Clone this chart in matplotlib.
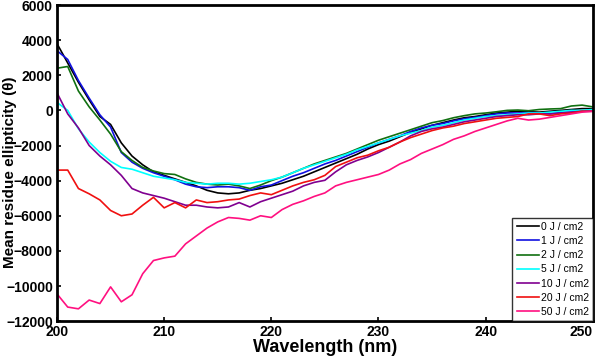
import matplotlib.pyplot as plt
import numpy as np

plt.rcParams['font.family'] = ['Liberation Sans', 'DejaVu Sans']

# wavelength grid (nm)
wavelength = np.arange(200, 251)

# mean residue ellipticity, one value per nm
cd_0 = [3800, 2700, 1600, 600, -350, -800, -1850, -2600, -3100, -3500,
        -3700, -3900, -4100, -4300, -4550, -4700, -4750, -4700, -4550, -4450,
        -4300, -4150, -3950, -3750, -3500, -3250, -3000, -2750, -2500, -2200,
        -1950, -1750, -1500, -1250, -1050, -850, -700, -550, -420, -350,
        -250, -150, -100, -50, -80, -100, -50, 0, 50, 100, 100]
cd_1 = [3400, 2900, 1700, 700, -250, -950, -2400, -2950, -3300, -3550,
        -3750, -3950, -4200, -4350, -4400, -4350, -4350, -4400, -4550, -4350,
        -4250, -4000, -3750, -3550, -3300, -3050, -2850, -2600, -2350, -2100,
        -1850, -1650, -1450, -1200, -1000, -850, -750, -600, -480, -400,
        -300, -200, -150, -150, -120, -150, -200, -120, -100, -50, 0]
cd_2 = [2400, 2500, 1100, 200, -550, -1350, -2350, -2850, -3250, -3450,
        -3600, -3650, -3900, -4100, -4200, -4250, -4200, -4300, -4450, -4250,
        -4000, -3800, -3550, -3300, -3050, -2850, -2650, -2450, -2200, -1950,
        -1700, -1500, -1300, -1100, -900, -700, -580, -420, -300, -200,
        -150, -80, 0, 20, -20, 50, 80, 100, 250, 300, 200]
cd_5 = [450, 0, -1050, -1800, -2400, -2900, -3250, -3350, -3550, -3750,
        -3850, -3950, -4100, -4150, -4200, -4150, -4150, -4200, -4150, -4050,
        -3950, -3800, -3550, -3300, -3100, -2900, -2700, -2500, -2250, -2050,
        -1850, -1650, -1450, -1300, -1150, -950, -850, -700, -550, -450,
        -350, -300, -250, -200, -150, -150, -100, -50, 0, 0, 50]
cd_10 = [1000, -200, -1000, -2000, -2600, -3100, -3700, -4450, -4700, -4850,
         -5000, -5200, -5400, -5400, -5500, -5550, -5500, -5250, -5500, -5200,
         -5000, -4800, -4600, -4300, -4100, -3980, -3500, -3100, -2850, -2650,
         -2400, -2100, -1800, -1450, -1200, -1050, -950, -800, -650, -550,
         -450, -350, -300, -250, -250, -200, -200, -150, -100, -50, -50]
cd_20 = [-3400, -3400, -4450, -4750, -5100, -5700, -6000, -5900, -5400, -4950,
         -5550, -5250, -5550, -5100, -5250, -5200, -5100, -5050, -4850, -4700,
         -4800, -4550, -4300, -4100, -3950, -3700, -3200, -2950, -2700, -2550,
         -2300, -2100, -1800, -1550, -1350, -1150, -1000, -900, -750, -650,
         -550, -450, -400, -350, -200, -200, -300, -200, -150, -50, -50]
cd_50 = [-10450, -11200, -11300, -10800, -11000, -10050, -10900, -10500, -9300, -8550,
         -8400, -8300, -7600, -7150, -6700, -6350, -6100, -6150, -6250, -6000,
         -6100, -5650, -5350, -5150, -4900, -4700, -4300, -4100, -3950, -3800,
         -3650, -3400, -3050, -2800, -2450, -2200, -1950, -1650, -1450, -1200,
         -1000, -800, -600, -450, -550, -500, -400, -300, -200, -100, -50]

labels = ['0 J / cm2', '1 J / cm2', '2 J / cm2', '5 J / cm2',
          '10 J / cm2', '20 J / cm2', '50 J / cm2']
colors = ['#000000', '#1010e0', '#107010', '#00ffff', '#800090', '#f01010', '#ff1080']
series = [cd_0, cd_1, cd_2, cd_5, cd_10, cd_20, cd_50]

fig = plt.figure(figsize=(6, 3.58), dpi=100)
ax = fig.add_axes([0.095, 0.103, 0.893, 0.883])

for y, c, lab in zip(series, colors, labels):
    ax.plot(wavelength, y, color=c, lw=1.2, label=lab)

ax.set_xlim(200, 250)
ax.set_ylim(-12000, 6000)
ax.set_xticks(np.arange(200, 251, 10))
ax.set_yticks(np.arange(-12000, 6001, 2000))
ax.tick_params(direction='in', length=3, width=1.2, labelsize=10, pad=3)
for t in ax.get_xticklabels() + ax.get_yticklabels():
    t.set_fontweight('bold')
ax.get_xticklabels()[-1].set_horizontalalignment('right')
for s in ax.spines.values():
    s.set_linewidth(2)

ax.set_xlabel('Wavelength (nm)', fontsize=13, fontweight='bold', labelpad=0)
ax.set_ylabel('Mean residue ellipticity (θ)', fontsize=11, fontweight='bold')
ax.yaxis.set_label_coords(-0.074, 0.47)

leg = ax.legend(loc='lower right', fontsize=7.5, frameon=True, fancybox=False,
                borderaxespad=0, handlelength=2.2, handletextpad=0.1,
                labelspacing=0.4, borderpad=0.4)
leg.get_frame().set_edgecolor('black')
leg.get_frame().set_linewidth(1)

fig.savefig('out.png', dpi=100)
